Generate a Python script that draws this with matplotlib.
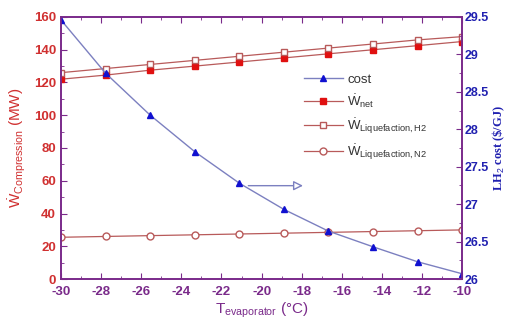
import matplotlib
matplotlib.use("Agg")
import matplotlib.pyplot as plt
from matplotlib.ticker import MultipleLocator

plt.rcParams['font.family'] = ['Liberation Sans', 'DejaVu Sans']
plt.rcParams['mathtext.fontset'] = 'custom'
plt.rcParams['mathtext.rm'] = 'Liberation Sans'
plt.rcParams['mathtext.it'] = 'Liberation Sans'
plt.rcParams['axes.unicode_minus'] = False

t_evap = [-30, -27.78, -25.56, -23.33, -21.11, -18.89, -16.67, -14.44, -12.22, -10]
cost = [29.46, 28.75, 28.19, 27.70, 27.28, 26.93, 26.64, 26.43, 26.23, 26.07]
w_net = [122, 124.5, 127.5, 130, 132.5, 135, 137.5, 140, 142.5, 145]
w_liq_h2 = [126, 128.5, 131, 133.5, 136, 138.5, 141, 143.5, 146, 148]
w_liq_n2 = [25.5, 26, 26.5, 27, 27.5, 28, 28.5, 29, 29.5, 30]

purple = '#7a2a8a'
red = '#d03030'
line_red = '#b85a5a'
blue = '#2020b0'
blue_line = '#7c80c0'

fig = plt.figure(figsize=(5.08, 3.2), dpi=100)
ax = fig.add_axes([0.120, 0.128, 0.790, 0.819])
ax2 = ax.twinx()

l2, = ax.plot(t_evap, w_net, color=line_red, lw=0.9, marker='s', ms=5,
              mfc='#e01010', mec='#e01010', label=r'$\dot{\mathrm{W}}_{\mathrm{net}}$')
l3, = ax.plot(t_evap, w_liq_h2, color=line_red, lw=0.9, marker='s', ms=5,
              mfc='white', mec=line_red, label=r'$\dot{\mathrm{W}}_{\mathrm{Liquefaction,H2}}$')
l4, = ax.plot(t_evap, w_liq_n2, color=line_red, lw=0.9, marker='o', ms=5,
              mfc='white', mec=line_red, label=r'$\dot{\mathrm{W}}_{\mathrm{Liquefaction,N2}}$')
l1, = ax2.plot(t_evap, cost, color=blue_line, lw=1.0, marker='^', ms=4.5,
               mfc='#1010d0', mec='#1010d0', label='cost')

ax.set_xlim(-30, -10)
ax.set_ylim(0, 160)
ax2.set_ylim(26, 29.5)

ax.xaxis.set_major_locator(MultipleLocator(2))
ax.xaxis.set_minor_locator(MultipleLocator(1))
ax.yaxis.set_major_locator(MultipleLocator(20))
ax.yaxis.set_minor_locator(MultipleLocator(10))
ax2.yaxis.set_major_locator(MultipleLocator(0.5))
ax2.yaxis.set_minor_locator(MultipleLocator(0.25))

for a in (ax, ax2):
    for s in a.spines.values():
        s.set_color(purple)
        s.set_linewidth(1.2)
ax.tick_params(axis='both', which='both', direction='in', color=purple, top=True)
ax.tick_params(axis='x', which='major', length=4, labelcolor=purple, labelsize=9.5, pad=5)
ax.tick_params(axis='x', which='minor', length=2)
ax.tick_params(axis='y', which='major', length=4, labelcolor=red, labelsize=9.5)
ax.tick_params(axis='y', which='minor', length=2)
ax2.tick_params(axis='y', which='both', direction='in', color=purple)
ax2.tick_params(axis='y', which='major', length=4, labelcolor=blue, labelsize=9, pad=2)
ax2.tick_params(axis='y', which='minor', length=2)
for lab in ax.get_xticklabels() + ax.get_yticklabels() + ax2.get_yticklabels():
    lab.set_fontweight('bold')

ax.set_xticks([-30, -28, -26, -24, -22, -20, -18, -16, -14, -12, -10])
ax2.set_yticks([26, 26.5, 27, 27.5, 28, 28.5, 29, 29.5])
ax2.set_yticklabels(['26', '26.5', '27', '27.5', '28', '28.5', '29', '29.5'], fontweight='bold')

ax.set_xlabel(r'T$_{\mathrm{evaporator}}$ (°C)', color=purple, fontsize=11, labelpad=2)
ax.set_ylabel(r'$\dot{\mathrm{W}}_{\mathrm{Compression}}$ (MW)', color=red, fontsize=11, labelpad=4)
ax2.set_ylabel(r'LH$_2$ cost (\$/GJ)', color=blue, fontsize=9,
               family=['Liberation Serif', 'DejaVu Serif'], fontweight='bold', labelpad=1)

ax.annotate('', xy=(-17.8, 57), xytext=(-20.8, 57),
            arrowprops=dict(arrowstyle='-|>', color=blue_line, lw=1.0,
                            fc='white', mutation_scale=14))

leg = ax.legend(handles=[l1, l2, l3, l4], loc='upper left',
                bbox_to_anchor=(0.575, 0.83), frameon=False, fontsize=9.5,
                handlelength=3.0, handletextpad=0.3, labelspacing=0.5)
for t in leg.get_texts():
    t.set_color('#333333')

fig.savefig('out.png', dpi=100)
